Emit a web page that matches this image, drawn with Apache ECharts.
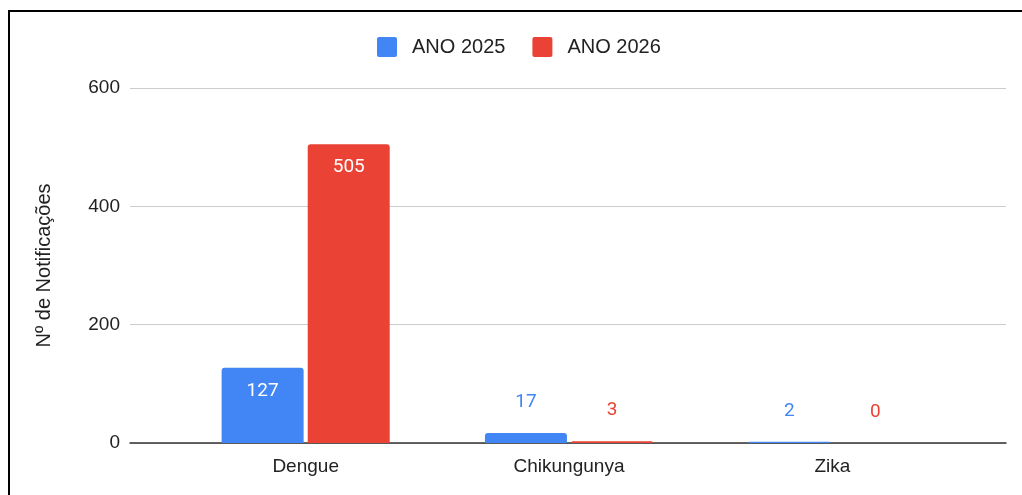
<!DOCTYPE html>
<html>
<head>
<meta charset="utf-8">
<script src="https://cdn.jsdelivr.net/npm/echarts@6/dist/echarts.min.js"></script>
<style>
  html, body { margin: 0; padding: 0; background: #fff; }
  #chart { position: absolute; left: 0; top: 0; width: 1022px; height: 495px; }
  #frame {
    position: absolute; left: 8px; top: 10px; right: 0; bottom: 0;
    border-top: 2px solid #000; border-left: 2px solid #000;
    pointer-events: none;
  }
</style>
</head>
<body>
<div id="chart"></div>
<div id="frame"></div>
<script>
const categories = ["Dengue", "Chikungunya", "Zika"];
const ano2025 = [127, 17, 2];
const ano2026 = [505, 3, 0];
const seriesNames = ["ANO 2025", "ANO 2026"];
const yTicks = [0, 200, 400, 600];

const blue = "#4285F4";
const red = "#EA4335";
const font = "'Liberation Sans', Arial, sans-serif";
const squareIcon = "path://M2,0H18A2,2,0,0,1,20,2V18A2,2,0,0,1,18,20H2A2,2,0,0,1,0,18V2A2,2,0,0,1,2,0Z";

// values tall enough get the label inside the bar, like the sheet does
function withLabels(values, color) {
  return values.map(function (v) {
    if (v >= 60) {
      return { value: v, label: { position: "insideTop", distance: 14, color: "#fff" } };
    }
    return { value: v, label: { position: "top", distance: 21, color: color } };
  });
}

var myChart = echarts.init(document.getElementById("chart"));

var option = {
  animation: false,
  color: [blue, red],
  legend: {
    data: seriesNames,
    left: 372,
    top: 32,
    itemWidth: 20,
    itemHeight: 20,
    itemGap: 27,
    icon: squareIcon,
    textStyle: {
      fontFamily: font,
      fontSize: 20,
      color: "#222",
      padding: [0, 0, 0, 10],
    },
  },
  grid: [
    { left: 130, right: 16, top: 88, bottom: 52 },
    { left: 174, right: 58, top: 88, bottom: 52 },
  ],
  xAxis: [
    {
      gridIndex: 0,
      type: "value",
      min: 0,
      max: 1,
      axisLine: { show: true, onZero: false, lineStyle: { color: "#333", width: 1.5 } },
      axisTick: { show: false },
      axisLabel: { show: false },
      splitLine: { show: false },
    },
    {
      gridIndex: 1,
      type: "category",
      data: categories,
      axisLine: { show: false },
      axisTick: { show: false },
      axisLabel: {
        margin: 14,
        fontFamily: font,
        fontSize: 19,
        color: "#222",
      },
    },
  ],
  yAxis: [
    {
      gridIndex: 0,
      type: "value",
      min: yTicks[0],
      max: yTicks[yTicks.length - 1],
      interval: 200,
      name: "Nº de Notificações",
      nameLocation: "middle",
      nameGap: 76,
      nameTextStyle: { fontFamily: font, fontSize: 20, color: "#222" },
      axisLine: { show: false },
      axisTick: { show: false },
      axisLabel: { margin: 10, fontFamily: font, fontSize: 19, color: "#222" },
      splitLine: { show: true, lineStyle: { color: "#ccc", width: 1 } },
    },
    {
      gridIndex: 1,
      type: "value",
      min: yTicks[0],
      max: yTicks[yTicks.length - 1],
      interval: 200,
      show: false,
      splitLine: { show: false },
    },
  ],
  series: [
    {
      name: seriesNames[0],
      type: "bar",
      xAxisIndex: 1,
      yAxisIndex: 1,
      barWidth: 82,
      barGap: "5%",
      itemStyle: { color: blue, borderRadius: [3, 3, 0, 0] },
      label: { show: true, fontFamily: "Roboto, sans-serif", fontSize: 19 },
      data: withLabels(ano2025, blue),
    },
    {
      name: seriesNames[1],
      type: "bar",
      xAxisIndex: 1,
      yAxisIndex: 1,
      barWidth: 82,
      barGap: "5%",
      itemStyle: { color: red, borderRadius: [3, 3, 0, 0] },
      label: { show: true, fontFamily: "Roboto, sans-serif", fontSize: 19 },
      data: withLabels(ano2026, red),
    },
  ],
};

option && myChart.setOption(option);
</script>
</body>
</html>
